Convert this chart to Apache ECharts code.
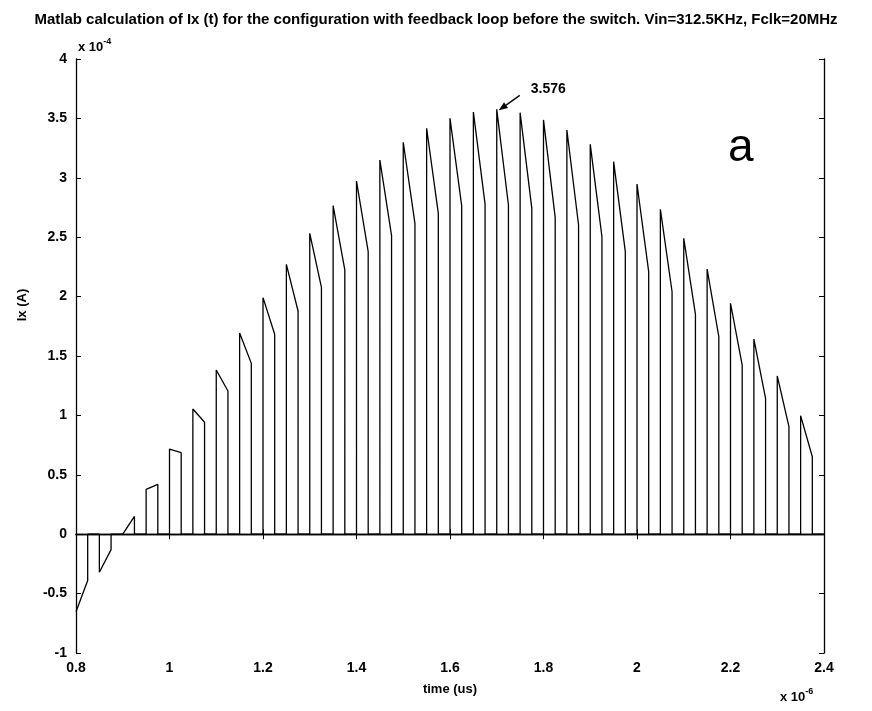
<!DOCTYPE html>
<html>
<head>
<meta charset="utf-8">
<title>Ix(t) feedback loop before the switch</title>
<script src="https://cdn.jsdelivr.net/npm/echarts@6/dist/echarts.min.js"></script>
<style>
  html, body { margin: 0; padding: 0; background: #fff; }
  #chart { width: 872px; height: 711px; }
</style>
</head>
<body>
<div id="chart"></div>
<script>
// Clock edges (x 1e-6 s) at which each conduction phase starts
const pulseStart = [0.80, 0.85, 0.90, 0.95, 1.00, 1.05, 1.10, 1.15, 1.20, 1.25, 1.30,
  1.35, 1.40, 1.45, 1.50, 1.55, 1.60, 1.65, 1.70, 1.75, 1.80, 1.85, 1.90, 1.95,
  2.00, 2.05, 2.10, 2.15, 2.20, 2.25, 2.30, 2.35];
// Current at the start of each conduction phase (x 1e-4 A)
const pulseHigh = [-0.652, -0.32, 0.00, 0.378, 0.717, 1.054, 1.382, 1.694, 1.991, 2.272, 2.533,
  2.765, 2.973, 3.150, 3.299, 3.417, 3.501, 3.554, 3.576, 3.548, 3.487, 3.402, 3.282, 3.136,
  2.948, 2.735, 2.491, 2.232, 1.944, 1.643, 1.332, 0.998];
// Current at the end of each conduction phase (x 1e-4 A)
const pulseLow = [-0.39, -0.13, 0.15, 0.42, 0.686, 0.942, 1.205, 1.438, 1.683, 1.879, 2.078,
  2.224, 2.378, 2.513, 2.617, 2.701, 2.763, 2.779, 2.771, 2.743, 2.667, 2.603, 2.504, 2.378,
  2.210, 2.041, 1.851, 1.663, 1.424, 1.144, 0.905, 0.652];
const onTime = 0.025;       // half of the 20 MHz clock period (x 1e-6 s)
const tEnd = 2.4;
const xTicks = { min: 0.8, max: 2.4, step: 0.2 };
const yTicks = { min: -1, max: 4, step: 0.5 };

// Piecewise waveform: jump to high, decay to low, back to zero for the off phase
const wave = [];
pulseStart.forEach((t, i) => {
  if (i > 0) wave.push([t, 0]);
  wave.push([t, pulseHigh[i]]);
  wave.push([t + onTime, pulseLow[i]]);
  wave.push([t + onTime, 0]);
});
wave.push([tEnd, 0]);

// Peak used for the annotation
let peakIdx = 0;
pulseHigh.forEach((v, i) => { if (v > pulseHigh[peakIdx]) peakIdx = i; });

const FONT = '"Liberation Sans", Arial, sans-serif';
const fmt = v => String(Math.round(v * 10) / 10);
const tickStyle = { inside: true, length: 5, lineStyle: { color: '#000', width: 1 } };
const lineStyle = { lineStyle: { color: '#000', width: 1.3 } };

const chart = echarts.init(document.getElementById('chart'), null, { renderer: 'canvas' });
chart.setOption({
  backgroundColor: '#fff',
  animation: false,
  title: {
    text: 'Matlab calculation of Ix (t) for the configuration with feedback loop before the switch. Vin=312.5KHz, Fclk=20MHz',
    left: 'center', top: 7,
    textStyle: { fontFamily: FONT, fontSize: 15, fontWeight: 'bold', color: '#000' }
  },
  grid: { left: 76, right: 48, top: 59, bottom: 58, containLabel: false },
  xAxis: [{
    type: 'value', position: 'bottom', min: xTicks.min, max: xTicks.max, interval: xTicks.step,
    axisLine: lineStyle, axisTick: tickStyle, splitLine: { show: false },
    axisLabel: { formatter: fmt, color: '#000', fontFamily: FONT, fontSize: 14, fontWeight: 'bold', margin: 8 },
    name: 'time (us)', nameLocation: 'middle', nameGap: 30,
    nameTextStyle: { color: '#000', fontFamily: FONT, fontSize: 13, fontWeight: 'bold' }
  }, {
    type: 'value', position: 'top', min: xTicks.min, max: xTicks.max, interval: xTicks.step,
    axisLine: lineStyle, axisTick: tickStyle, splitLine: { show: false }, axisLabel: { show: false }
  }],
  yAxis: [{
    type: 'value', position: 'left', min: yTicks.min, max: yTicks.max, interval: yTicks.step,
    axisLine: lineStyle, axisTick: tickStyle, splitLine: { show: false },
    axisLabel: { formatter: fmt, color: '#000', fontFamily: FONT, fontSize: 14, fontWeight: 'bold', margin: 9 }
  }, {
    type: 'value', position: 'right', min: yTicks.min, max: yTicks.max, interval: yTicks.step,
    axisLine: lineStyle, axisTick: tickStyle, splitLine: { show: false }, axisLabel: { show: false }
  }],
  series: [{
    type: 'line', xAxisIndex: 0, yAxisIndex: 0, data: wave,
    showSymbol: false, symbol: 'none', clip: true,
    lineStyle: { color: '#000', width: 1.3 }
  }]
});

// Annotation placed relative to the peak's pixel position
const pk = chart.convertToPixel({ xAxisIndex: 0, yAxisIndex: 0 }, [pulseStart[peakIdx], pulseHigh[peakIdx]]);
const tip = [pk[0] + 2, pk[1] + 1];
const tail = [pk[0] + 23, pk[1] - 14];
const ang = Math.atan2(tail[1] - tip[1], tail[0] - tip[0]);
const ah = 9, aw = 3.5;
const bx = tip[0] + ah * Math.cos(ang), by = tip[1] + ah * Math.sin(ang);
const px = -Math.sin(ang) * aw, py = Math.cos(ang) * aw;

chart.setOption({
  graphic: [
    { type: 'line', shape: { x1: tail[0], y1: tail[1], x2: bx, y2: by }, style: { stroke: '#000', lineWidth: 1.3 } },
    { type: 'polygon', shape: { points: [tip, [bx + px, by + py], [bx - px, by - py]] }, style: { fill: '#000' } },
    { type: 'text', x: pk[0] + 34, y: pk[1] - 20,
      style: { text: pulseHigh[peakIdx].toFixed(3), fill: '#000', font: 'bold 14px ' + FONT, textVerticalAlign: 'middle' } },
    { type: 'text', x: 728, y: 148,
      style: { text: 'a', fill: '#000', font: '46px ' + FONT, textVerticalAlign: 'middle' } },
    { type: 'text', x: 78, y: 47,
      style: { text: '{b|x 10}{s|-4}', fill: '#000', textVerticalAlign: 'middle',
        rich: { b: { fontFamily: FONT, fontSize: 13, fontWeight: 'bold', fill: '#000' },
                s: { fontFamily: FONT, fontSize: 9, fontWeight: 'bold', fill: '#000', padding: [0, 0, 10, 0] } } } },
    { type: 'text', x: 780, y: 697,
      style: { text: '{b|x 10}{s|-6}', fill: '#000', textVerticalAlign: 'middle',
        rich: { b: { fontFamily: FONT, fontSize: 13, fontWeight: 'bold', fill: '#000' },
                s: { fontFamily: FONT, fontSize: 9, fontWeight: 'bold', fill: '#000', padding: [0, 0, 10, 0] } } } },
    { type: 'text', x: 22, y: 305, rotation: Math.PI / 2,
      style: { text: 'Ix (A)', fill: '#000', font: 'bold 13px ' + FONT, textAlign: 'center', textVerticalAlign: 'middle' } }
  ]
});
</script>
</body>
</html>
